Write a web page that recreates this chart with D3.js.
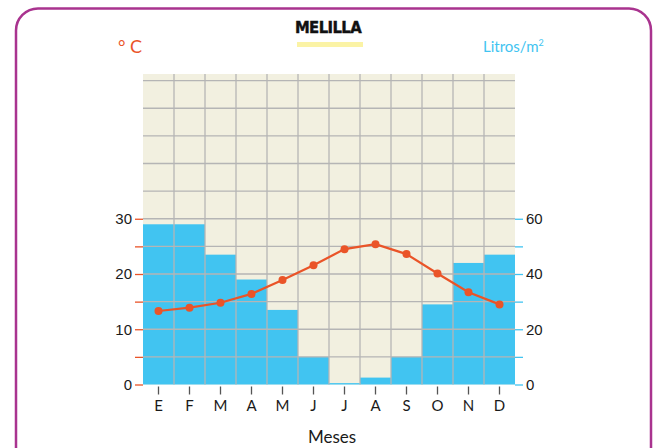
<!DOCTYPE html>
<html>
<head>
<meta charset="utf-8">
<script src="https://cdn.jsdelivr.net/npm/d3@7"></script>
<style>
  html, body { margin: 0; padding: 0; background: #fff; }
  svg { display: block; }
  .num { font-family: "Liberation Sans", Arial, sans-serif; font-size: 15px; fill: #1a1a1a; }
  .lbl { font-family: "Lato", "Open Sans", sans-serif; font-size: 15px; fill: #1a1a1a; }
</style>
</head>
<body>
<div id="chart"></div>
<script>
"use strict";

// climate data for Melilla
var months = ["E", "F", "M", "A", "M", "J", "J", "A", "S", "O", "N", "D"];
var rainfall = [58, 58, 47, 38, 27, 10, 0.5, 2.5, 10, 29, 44, 47]; // litros/m2
var temperature = [13.3, 13.9, 14.8, 16.4, 18.9, 21.6, 24.5, 25.4, 23.6, 20.1, 16.7, 14.5]; // °C
var tempTicks = [0, 10, 20, 30];
var rainTicks = [0, 20, 40, 60];

var width = 655,
  height = 448,
  margin = { top: 74, right: 140, bottom: 64, left: 143 },
  orange = "#ea5428",
  blue = "#41c4f1",
  grid = "#b5b5b5";

var svg = d3
  .select("#chart")
  .append("svg")
  .attr("width", width)
  .attr("height", height);

// frame
svg
  .append("rect")
  .attr("x", 16)
  .attr("y", 8.5)
  .attr("width", 635)
  .attr("height", 470)
  .attr("rx", 22)
  .attr("fill", "none")
  .attr("stroke", "#a9338f")
  .attr("stroke-width", 2.5);

var x = d3
  .scaleBand()
  .domain(d3.range(months.length))
  .range([margin.left, width - margin.right])
  .padding(0);

var yT = d3
  .scaleLinear()
  .domain([0, 56.2])
  .range([height - margin.bottom + 0.5, margin.top]);

var yR = d3
  .scaleLinear()
  .domain([0, 112.4])
  .range(yT.range());

// plot background
svg
  .append("rect")
  .attr("x", x.range()[0])
  .attr("y", yT.range()[1])
  .attr("width", x.range()[1] - x.range()[0])
  .attr("height", yT.range()[0] - yT.range()[1])
  .attr("fill", "#f2f0e0");

// bars
svg
  .append("g")
  .selectAll("rect")
  .data(rainfall)
  .join("rect")
  .attr("x", (d, i) => x(i))
  .attr("width", x.bandwidth())
  .attr("y", (d) => yR(d))
  .attr("height", (d) => yR(0) - yR(d))
  .attr("fill", blue);

// grid
var g = svg.append("g").attr("stroke", grid).attr("stroke-width", 1.3);
g.selectAll(".h")
  .data(d3.range(5, 56, 5))
  .join("line")
  .attr("x1", x.range()[0])
  .attr("x2", x.range()[1])
  .attr("y1", (d) => yT(d))
  .attr("y2", (d) => yT(d));
g.selectAll(".v")
  .data(d3.range(1, months.length))
  .join("line")
  .attr("x1", (d) => x(d))
  .attr("x2", (d) => x(d))
  .attr("y1", yT.range()[1])
  .attr("y2", yT.range()[0]);

// left axis (temperature)
var leftAxis = svg
  .append("g")
  .attr("transform", "translate(" + x.range()[0] + ",0)")
  .call(
    d3.axisLeft(yT).tickValues(d3.range(0, 31, 5)).tickSize(8).tickPadding(3)
      .tickFormat((d) => (tempTicks.indexOf(d) >= 0 ? d : ""))
  );
leftAxis.select(".domain").remove();
leftAxis.selectAll(".tick line").attr("stroke", orange).attr("stroke-width", 1.3);
leftAxis.selectAll(".tick text").attr("class", "num").attr("fill", null);

// right axis (rainfall)
var rightAxis = svg
  .append("g")
  .attr("transform", "translate(" + x.range()[1] + ",0)")
  .call(
    d3.axisRight(yR).tickValues(d3.range(0, 61, 10)).tickSize(8).tickPadding(3)
      .tickFormat((d) => (rainTicks.indexOf(d) >= 0 ? d : ""))
  );
rightAxis.select(".domain").remove();
rightAxis.selectAll(".tick line").attr("stroke", blue).attr("stroke-width", 1.3);
rightAxis.selectAll(".tick text").attr("class", "num").attr("fill", null);

// bottom axis (months)
var bottomAxis = svg
  .append("g")
  .attr("transform", "translate(0," + (yT(0) + 2) + ")")
  .call(
    d3.axisBottom(x).tickSize(8).tickPadding(6).tickFormat((i) => months[i])
  );
bottomAxis.select(".domain").remove();
bottomAxis.selectAll(".tick line").attr("stroke", "#555").attr("stroke-width", 1.3);
bottomAxis.selectAll(".tick text").attr("class", "lbl").attr("fill", null);

// temperature line
var line = d3
  .line()
  .x((d, i) => x(i) + x.bandwidth() / 2)
  .y((d) => yT(d));

svg
  .append("path")
  .datum(temperature)
  .attr("d", line)
  .attr("fill", "none")
  .attr("stroke", orange)
  .attr("stroke-width", 2.2);

svg
  .append("g")
  .selectAll("circle")
  .data(temperature)
  .join("circle")
  .attr("cx", (d, i) => x(i) + x.bandwidth() / 2)
  .attr("cy", (d) => yT(d))
  .attr("r", 4)
  .attr("fill", orange);

// titles
svg
  .append("rect")
  .attr("x", 297)
  .attr("y", 42)
  .attr("width", 66)
  .attr("height", 5)
  .attr("fill", "#fbf3a5");

svg
  .append("text")
  .attr("x", 328)
  .attr("y", 32.5)
  .attr("text-anchor", "middle")
  .attr("font-family", "'Liberation Sans Narrow', 'DejaVu Sans Condensed', sans-serif")
  .attr("font-weight", "bold")
  .attr("font-size", 16.5)
  .attr("letter-spacing", -0.6)
  .attr("stroke", "#111")
  .attr("stroke-width", 0.4)
  .attr("fill", "#111")
  .text("MELILLA");

svg
  .append("text")
  .attr("x", 118)
  .attr("y", 52.5)
  .attr("font-family", "Lato, sans-serif")
  .attr("font-size", 18)
  .attr("fill", orange)
  .text("° C");

var lt = svg
  .append("text")
  .attr("x", 483)
  .attr("y", 52)
  .attr("font-family", "Lato, sans-serif")
  .attr("font-size", 15)
  .attr("fill", blue)
  .text("Litros/m");
lt.append("tspan").attr("font-size", 9).attr("dy", -6).text("2");

svg
  .append("text")
  .attr("class", "lbl")
  .attr("x", 332)
  .attr("y", 442.5)
  .attr("text-anchor", "middle")
  .attr("font-size", 17)
  .style("font-size", "17px")
  .text("Meses");
</script>
</body>
</html>
